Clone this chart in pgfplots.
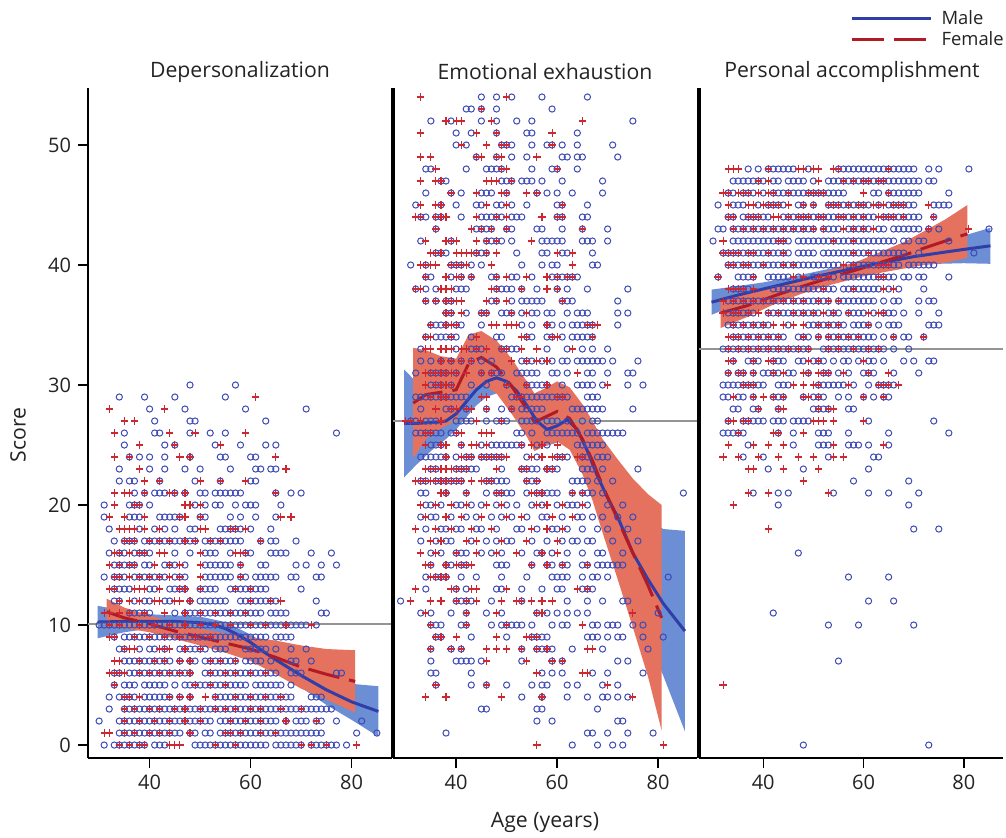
\documentclass[border=0pt]{standalone}
\usepackage{fontspec}
\setmainfont{Open Sans}
\usepackage{pgfplots}
\pgfplotsset{compat=1.18}

\definecolor{maleM}{RGB}{62,74,182}
\definecolor{femaleM}{RGB}{204,40,50}
\definecolor{maleL}{RGB}{48,62,170}
\definecolor{femaleL}{RGB}{178,26,38}
\definecolor{maleB}{RGB}{108,142,212}
\definecolor{femaleB}{RGB}{228,114,94}
\definecolor{refG}{RGB}{148,148,148}
\definecolor{txt}{RGB}{35,35,35}

\pgfplotsset{
  panel/.style={
    scale only axis, width=152pt, height=335pt,
    ymin=-1.08, ymax=54.75,
    axis x line*=bottom, axis y line*=left,
    axis line style={line width=0.7pt, black},
    xtick={40,60,80}, tick align=outside, major tick length=5pt,
    tick style={line width=0.7pt, black},
    every tick label/.append style={font=\fontsize{10}{12}\selectfont, text=txt},
    /pgf/number format/assume math mode=true,
  },
  sepline/.style={ytick=\empty, y axis line style={line width=2pt}},
  mpts/.style={only marks, mark=o, mark size=1.55pt, color=maleM, mark options={line width=0.5pt}},
  fpts/.style={only marks, mark=+, mark size=1.8pt, color=femaleM, mark options={line width=0.55pt}},
  mband/.style={fill=maleB, draw=none, no marks},
  fband/.style={fill=femaleB, draw=none, no marks},
  mline/.style={maleL, line width=1.5pt, no marks},
  fline/.style={femaleL, line width=1.5pt, no marks, dash pattern=on 16pt off 5pt},
  refl/.style={refG, line width=1pt, no marks},
}

\begin{document}
\begin{tikzpicture}[x=1pt,y=1pt]
\useasboundingbox (0,0) rectangle (503,418.5);

% ---------------- Depersonalization
\begin{axis}[panel, at={(44pt,39.5pt)}, anchor=south west,
  xmin=27.8, xmax=88, ytick={0,10,20,30,40,50}]
\addplot[mband] coordinates {(29.7,11.6)(35,11.2)(40,10.9)(45,10.8)(50,10.7)(55,10.25)(60,9.2)(65,7.9)(70,6.8)(75,5.85)(80,5.1)(85.3,4.9)
  (85.3,0.7)(80,2.1)(75,3.35)(70,4.8)(65,6.3)(60,7.9)(55,9.15)(50,9.7)(45,9.8)(40,9.7)(35,9.4)(29.7,8.9)};
\addplot[fband] coordinates {(31.5,12.2)(35,11.45)(40,10.8)(45,10.15)(50,9.7)(55,9.3)(60,9.0)(65,8.7)(70,8.3)(75,8.0)(80.7,7.9)
  (80.7,2.7)(75,3.8)(70,4.7)(65,5.9)(60,7.0)(55,7.7)(50,8.3)(45,8.85)(40,9.4)(35,9.75)(31.5,10.0)};
\addplot[refl] coordinates {(27.8,10.1)(88,10.1)};
\addplot[mpts] table[row sep=\\] {x y\\
31 0\\33 0\\34 0\\35 0\\36 0\\37 0\\38 0\\39 0\\41 0\\42 0\\43 0\\49 0\\50 0\\51 0\\52 0\\53 0\\54 0\\55 0\\56 0\\57 0\\58 0\\59 0\\60 0\\61 0\\62 0\\63 0\\65 0\\66 0\\67 0\\68 0\\69 0\\70 0\\72 0\\73 0\\74 0\\75 0\\76 0\\77 0\\79 0\\
34 1\\35 1\\36 1\\37 1\\38 1\\39 1\\40 1\\41 1\\42 1\\43 1\\44 1\\45 1\\46 1\\48 1\\49 1\\51 1\\52 1\\54 1\\55 1\\56 1\\57 1\\58 1\\59 1\\60 1\\61 1\\62 1\\63 1\\64 1\\65 1\\66 1\\67 1\\68 1\\69 1\\70 1\\71 1\\72 1\\73 1\\74 1\\81 1\\85 1\\
30 2\\34 2\\35 2\\36 2\\37 2\\38 2\\39 2\\40 2\\41 2\\42 2\\43 2\\44 2\\45 2\\46 2\\47 2\\48 2\\49 2\\50 2\\51 2\\52 2\\54 2\\55 2\\56 2\\57 2\\58 2\\59 2\\60 2\\61 2\\62 2\\63 2\\64 2\\65 2\\67 2\\69 2\\70 2\\71 2\\73 2\\74 2\\77 2\\82 2\\
32 3\\35 3\\36 3\\37 3\\38 3\\39 3\\40 3\\41 3\\42 3\\43 3\\44 3\\45 3\\46 3\\47 3\\48 3\\49 3\\50 3\\51 3\\52 3\\53 3\\54 3\\55 3\\56 3\\57 3\\58 3\\59 3\\60 3\\61 3\\62 3\\63 3\\64 3\\65 3\\66 3\\67 3\\68 3\\69 3\\70 3\\71 3\\72 3\\73 3\\74 3\\75 3\\76 3\\
32 4\\34 4\\35 4\\36 4\\37 4\\39 4\\40 4\\41 4\\42 4\\43 4\\44 4\\46 4\\48 4\\53 4\\54 4\\55 4\\56 4\\57 4\\58 4\\59 4\\60 4\\61 4\\62 4\\63 4\\64 4\\65 4\\66 4\\67 4\\68 4\\72 4\\73 4\\74 4\\
33 5\\35 5\\36 5\\37 5\\39 5\\40 5\\41 5\\42 5\\43 5\\45 5\\47 5\\48 5\\49 5\\50 5\\51 5\\52 5\\53 5\\54 5\\55 5\\56 5\\57 5\\58 5\\59 5\\61 5\\62 5\\63 5\\64 5\\65 5\\66 5\\68 5\\
33 6\\34 6\\36 6\\37 6\\38 6\\39 6\\40 6\\41 6\\42 6\\43 6\\44 6\\45 6\\46 6\\47 6\\48 6\\51 6\\52 6\\53 6\\54 6\\55 6\\56 6\\57 6\\58 6\\59 6\\60 6\\61 6\\62 6\\63 6\\64 6\\65 6\\68 6\\69 6\\70 6\\77 6\\78 6\\
35 7\\36 7\\37 7\\38 7\\39 7\\40 7\\41 7\\42 7\\43 7\\44 7\\46 7\\48 7\\49 7\\51 7\\52 7\\53 7\\54 7\\55 7\\56 7\\57 7\\59 7\\60 7\\61 7\\62 7\\64 7\\68 7\\69 7\\72 7\\
34 8\\35 8\\38 8\\40 8\\41 8\\43 8\\46 8\\47 8\\48 8\\49 8\\50 8\\51 8\\53 8\\54 8\\55 8\\59 8\\60 8\\61 8\\62 8\\63 8\\65 8\\68 8\\71 8\\
33 9\\35 9\\36 9\\37 9\\38 9\\39 9\\40 9\\41 9\\42 9\\43 9\\44 9\\45 9\\46 9\\47 9\\48 9\\49 9\\50 9\\51 9\\52 9\\53 9\\54 9\\55 9\\56 9\\57 9\\58 9\\59 9\\60 9\\61 9\\62 9\\63 9\\65 9\\66 9\\67 9\\68 9\\
30 10\\31 10\\32 10\\33 10\\34 10\\35 10\\36 10\\37 10\\38 10\\39 10\\40 10\\41 10\\42 10\\43 10\\44 10\\45 10\\46 10\\47 10\\48 10\\49 10\\50 10\\51 10\\52 10\\53 10\\54 10\\55 10\\56 10\\57 10\\58 10\\59 10\\60 10\\61 10\\62 10\\63 10\\64 10\\65 10\\66 10\\67 10\\68 10\\69 10\\70 10\\71 10\\73 10\\
36 11\\37 11\\38 11\\39 11\\40 11\\45 11\\47 11\\48 11\\49 11\\50 11\\51 11\\52 11\\53 11\\54 11\\55 11\\56 11\\57 11\\58 11\\59 11\\60 11\\61 11\\62 11\\64 11\\65 11\\66 11\\67 11\\74 11\\75 11\\
33 12\\34 12\\37 12\\39 12\\40 12\\43 12\\44 12\\48 12\\50 12\\51 12\\52 12\\53 12\\54 12\\55 12\\58 12\\59 12\\60 12\\61 12\\62 12\\63 12\\64 12\\65 12\\73 12\\
33 13\\34 13\\35 13\\36 13\\40 13\\41 13\\44 13\\45 13\\46 13\\47 13\\50 13\\51 13\\52 13\\53 13\\56 13\\57 13\\58 13\\59 13\\60 13\\61 13\\62 13\\63 13\\70 13\\
31 14\\33 14\\34 14\\35 14\\37 14\\38 14\\39 14\\40 14\\41 14\\42 14\\43 14\\45 14\\46 14\\47 14\\51 14\\52 14\\53 14\\54 14\\55 14\\56 14\\58 14\\59 14\\61 14\\62 14\\63 14\\64 14\\65 14\\68 14\\69 14\\73 14\\74 14\\
33 15\\34 15\\35 15\\36 15\\37 15\\39 15\\40 15\\43 15\\44 15\\45 15\\47 15\\51 15\\52 15\\53 15\\54 15\\55 15\\56 15\\58 15\\62 15\\63 15\\69 15\\71 15\\74 15\\77 15\\
32 16\\34 16\\35 16\\37 16\\38 16\\39 16\\40 16\\45 16\\48 16\\51 16\\52 16\\53 16\\56 16\\59 16\\60 16\\64 16\\65 16\\66 16\\67 16\\72 16\\76 16\\
33 17\\35 17\\36 17\\37 17\\39 17\\40 17\\41 17\\42 17\\43 17\\44 17\\45 17\\46 17\\47 17\\48 17\\49 17\\51 17\\52 17\\53 17\\54 17\\55 17\\56 17\\57 17\\58 17\\62 17\\64 17\\65 17\\69 17\\
32 18\\38 18\\41 18\\43 18\\45 18\\48 18\\49 18\\54 18\\55 18\\56 18\\57 18\\58 18\\60 18\\64 18\\
31 19\\36 19\\37 19\\38 19\\42 19\\43 19\\44 19\\45 19\\46 19\\50 19\\51 19\\56 19\\58 19\\61 19\\65 19\\
31 20\\36 20\\37 20\\38 20\\40 20\\49 20\\51 20\\53 20\\54 20\\57 20\\59 20\\60 20\\61 20\\66 20\\
37 21\\39 21\\41 21\\42 21\\43 21\\45 21\\47 21\\50 21\\51 21\\53 21\\54 21\\55 21\\56 21\\57 21\\58 21\\65 21\\68 21\\70 21\\
34 22\\36 22\\37 22\\42 22\\49 22\\54 22\\60 22\\61 22\\
34 23\\40 23\\43 23\\47 23\\50 23\\56 23\\61 23\\62 23\\64 23\\65 23\\
36 24\\38 24\\40 24\\43 24\\48 24\\54 24\\55 24\\60 24\\61 24\\
35 25\\43 25\\45 25\\53 25\\58 25\\63 25\\65 25\\
35 26\\41 26\\42 26\\48 26\\52 26\\55 26\\77 26\\
41 27\\48 27\\49 27\\63 27\\
40 28\\47 28\\59 28\\71 28\\
34 29\\39 29\\45 29\\55 29\\
48 30\\57 30\\
};
\addplot[fpts] table[row sep=\\] {x y\\
34 0\\36 0\\38 0\\39 0\\44 0\\45 0\\46 0\\53 0\\57 0\\70 0\\72 0\\75 0\\81 0\\
31 1\\32 1\\35 1\\37 1\\40 1\\42 1\\44 1\\48 1\\55 1\\56 1\\58 1\\62 1\\65 1\\
35 2\\38 2\\41 2\\44 2\\47 2\\50 2\\56 2\\59 2\\62 2\\67 2\\73 2\\
35 3\\37 3\\40 3\\42 3\\45 3\\47 3\\50 3\\53 3\\55 3\\57 3\\60 3\\62 3\\66 3\\70 3\\
35 4\\36 4\\38 4\\44 4\\46 4\\48 4\\51 4\\53 4\\57 4\\60 4\\63 4\\66 4\\
33 5\\49 5\\52 5\\55 5\\
32 6\\33 6\\34 6\\35 6\\38 6\\40 6\\42 6\\44 6\\46 6\\48 6\\52 6\\55 6\\57 6\\60 6\\63 6\\
33 7\\34 7\\38 7\\41 7\\43 7\\46 7\\48 7\\52 7\\54 7\\57 7\\
35 8\\36 8\\37 8\\42 8\\43 8\\44 8\\47 8\\50 8\\
32 9\\33 9\\37 9\\40 9\\43 9\\46 9\\49 9\\52 9\\
32 10\\34 10\\38 10\\41 10\\44 10\\47 10\\50 10\\53 10\\56 10\\60 10\\63 10\\67 10\\72 10\\
31 11\\32 11\\34 11\\36 11\\39 11\\43 11\\47 11\\50 11\\53 11\\56 11\\59 11\\
34 12\\36 12\\38 12\\41 12\\42 12\\45 12\\46 12\\48 12\\60 12\\64 12\\66 12\\
32 13\\33 13\\37 13\\38 13\\39 13\\42 13\\46 13\\47 13\\50 13\\57 13\\60 13\\
33 14\\34 14\\36 14\\38 14\\40 14\\42 14\\44 14\\46 14\\50 14\\58 14\\
32 15\\34 15\\36 15\\37 15\\41 15\\44 15\\46 15\\50 15\\58 15\\
33 16\\34 16\\36 16\\38 16\\39 16\\42 16\\43 16\\50 16\\57 16\\58 16\\59 16\\
35 17\\36 17\\37 17\\40 17\\42 17\\44 17\\47 17\\49 17\\52 17\\54 17\\62 17\\
34 18\\35 18\\36 18\\37 18\\39 18\\42 18\\50 18\\51 18\\56 18\\57 18\\59 18\\
32 19\\35 19\\39 19\\46 19\\47 19\\50 19\\66 19\\68 19\\
33 20\\37 20\\38 20\\47 20\\48 20\\50 20\\
33 21\\35 21\\36 21\\39 21\\44 21\\45 21\\47 21\\65 21\\
39 22\\42 22\\50 22\\54 22\\59 22\\
38 23\\67 23\\
33 24\\36 24\\46 24\\48 24\\65 24\\
38 25\\45 25\\54 25\\
33 26\\44 26\\49 26\\59 26\\
35 27\\37 27\\
32 28\\43 28\\
61 29\\
};
\addplot[mline] coordinates {(29.7,10.25)(35,10.3)(40,10.3)(45,10.3)(50,10.2)(53,10.0)(55,9.7)(57,9.3)(60,8.55)(62.5,7.8)(65,7.1)(70,5.8)(75,4.6)(80,3.6)(85.3,2.8)};
\addplot[fline] coordinates {(31.5,11.1)(35,10.6)(40,10.1)(45,9.5)(50,9.0)(55,8.5)(60,8.0)(65,7.3)(70,6.5)(75,5.9)(80.7,5.3)};
\end{axis}

% ---------------- Emotional exhaustion
\begin{axis}[panel, sepline, at={(196.5pt,39.5pt)}, anchor=south west,
  xmin=27.5, xmax=87.7]
\addplot[mband] coordinates {(29.7,31.3)(32,30.3)(35,29.3)(38,28.5)(40,28.9)(42,29.9)(44,30.9)(46,31.6)(48,31.9)(50,31.6)(52,30.8)(54,29.6)(56,28.3)(58,27.65)(60,28.0)(62,28.6)(64,27.9)(66,26.4)(68,24.6)(70,23.2)(72,22.0)(75,20.2)(78,18.9)(81,18.0)(85.3,17.85)
  (85.3,1.15)(81,5.8)(78,8.9)(75,12.1)(72,16.0)(70,18.0)(68,20.2)(66,22.6)(64,24.7)(62,25.6)(60,25.2)(58,24.95)(56,25.7)(54,27.0)(52,28.2)(50,29.0)(48,29.3)(46,29.0)(44,28.3)(42,27.3)(40,26.3)(38,25.5)(35,24.5)(32,23.3)(29.7,22.3)};
\addplot[fband] coordinates {(31.5,33.1)(34,32.9)(37,32.4)(40,32.2)(42.5,34.2)(45,34.5)(48,33.7)(51,32.2)(54,30.3)(55.5,29.3)(57,29.6)(60,30.3)(62.5,29.8)(65,28.4)(67,27.0)(69,25.5)(72,23.8)(75,22.2)(78,20.9)(80.7,20.0)
  (80.7,1.2)(78,5.7)(75,9.8)(72,13.8)(69,17.7)(67,20.4)(65,22.6)(62.5,24.6)(60,25.3)(57,24.8)(55.5,24.5)(54,25.7)(51,27.6)(48,29.3)(45,30.1)(42.5,29.4)(40,27.0)(37,26.4)(34,25.5)(31.5,23.9)};
\addplot[refl] coordinates {(27.5,27)(87.7,27)};
\addplot[mpts] table[row sep=\\] {x y\\
45 54\\48 54\\51 54\\57 54\\66 54\\
42 53\\43 53\\45 53\\48 53\\59 53\\
35 52\\39 52\\45 52\\48 52\\52 52\\55 52\\75 52\\
40 51\\43 51\\48 51\\54 51\\55 51\\64 51\\
40 50\\42 50\\49 50\\50 50\\51 50\\55 50\\58 50\\59 50\\61 50\\64 50\\71 50\\
44 49\\48 49\\51 49\\54 49\\61 49\\62 49\\64 49\\65 49\\72 49\\
34 48\\35 48\\42 48\\46 48\\47 48\\48 48\\49 48\\55 48\\59 48\\60 48\\64 48\\
37 47\\38 47\\49 47\\50 47\\51 47\\53 47\\54 47\\55 47\\57 47\\61 47\\69 47\\
34 46\\39 46\\41 46\\45 46\\46 46\\47 46\\50 46\\56 46\\58 46\\60 46\\63 46\\69 46\\
32 45\\37 45\\40 45\\44 45\\45 45\\48 45\\49 45\\51 45\\54 45\\60 45\\61 45\\66 45\\
33 44\\34 44\\36 44\\37 44\\41 44\\45 44\\46 44\\47 44\\48 44\\49 44\\51 44\\52 44\\53 44\\60 44\\61 44\\65 44\\66 44\\
36 43\\44 43\\45 43\\46 43\\47 43\\50 43\\51 43\\56 43\\57 43\\61 43\\65 43\\70 43\\
33 42\\39 42\\46 42\\47 42\\48 42\\49 42\\51 42\\57 42\\58 42\\59 42\\60 42\\61 42\\65 42\\66 42\\67 42\\70 42\\
36 41\\37 41\\38 41\\44 41\\45 41\\46 41\\52 41\\57 41\\58 41\\61 41\\62 41\\67 41\\
31 40\\34 40\\39 40\\40 40\\41 40\\43 40\\45 40\\53 40\\57 40\\59 40\\60 40\\67 40\\68 40\\
34 39\\35 39\\39 39\\41 39\\43 39\\47 39\\48 39\\51 39\\52 39\\55 39\\59 39\\60 39\\61 39\\62 39\\63 39\\64 39\\
32 38\\34 38\\36 38\\40 38\\41 38\\42 38\\48 38\\49 38\\50 38\\51 38\\53 38\\56 38\\60 38\\62 38\\66 38\\74 38\\
34 37\\36 37\\38 37\\39 37\\47 37\\48 37\\51 37\\53 37\\54 37\\55 37\\56 37\\57 37\\61 37\\62 37\\63 37\\72 37\\
38 36\\39 36\\42 36\\45 36\\46 36\\49 36\\50 36\\51 36\\53 36\\55 36\\56 36\\58 36\\59 36\\62 36\\64 36\\65 36\\66 36\\72 36\\74 36\\
35 35\\36 35\\37 35\\38 35\\40 35\\41 35\\45 35\\53 35\\55 35\\58 35\\59 35\\61 35\\63 35\\64 35\\65 35\\66 35\\67 35\\72 35\\
34 34\\36 34\\37 34\\38 34\\39 34\\40 34\\43 34\\48 34\\49 34\\54 34\\55 34\\58 34\\59 34\\61 34\\63 34\\64 34\\65 34\\66 34\\67 34\\
33 33\\40 33\\43 33\\44 33\\45 33\\49 33\\50 33\\51 33\\52 33\\58 33\\62 33\\65 33\\67 33\\70 33\\
33 32\\35 32\\37 32\\39 32\\41 32\\43 32\\45 32\\47 32\\53 32\\54 32\\55 32\\57 32\\59 32\\61 32\\62 32\\64 32\\65 32\\66 32\\67 32\\68 32\\69 32\\71 32\\76 32\\
32 31\\35 31\\36 31\\37 31\\38 31\\40 31\\45 31\\47 31\\48 31\\49 31\\52 31\\53 31\\54 31\\55 31\\56 31\\59 31\\60 31\\62 31\\66 31\\67 31\\70 31\\74 31\\75 31\\
35 30\\36 30\\37 30\\39 30\\43 30\\46 30\\50 30\\54 30\\55 30\\56 30\\57 30\\58 30\\61 30\\64 30\\65 30\\66 30\\67 30\\69 30\\74 30\\77 30\\
32 29\\33 29\\34 29\\35 29\\36 29\\37 29\\38 29\\39 29\\40 29\\41 29\\42 29\\51 29\\52 29\\53 29\\54 29\\55 29\\56 29\\57 29\\58 29\\59 29\\60 29\\61 29\\62 29\\66 29\\67 29\\68 29\\
33 28\\38 28\\39 28\\42 28\\46 28\\49 28\\51 28\\53 28\\54 28\\55 28\\56 28\\57 28\\63 28\\64 28\\65 28\\66 28\\67 28\\68 28\\69 28\\75 28\\
31 27\\32 27\\34 27\\35 27\\36 27\\40 27\\41 27\\42 27\\43 27\\46 27\\48 27\\49 27\\50 27\\53 27\\54 27\\55 27\\56 27\\58 27\\59 27\\60 27\\62 27\\65 27\\67 27\\68 27\\
32 26\\33 26\\34 26\\35 26\\36 26\\37 26\\39 26\\40 26\\52 26\\53 26\\55 26\\58 26\\59 26\\60 26\\61 26\\62 26\\63 26\\64 26\\66 26\\67 26\\68 26\\69 26\\70 26\\71 26\\72 26\\73 26\\
35 25\\36 25\\37 25\\41 25\\45 25\\47 25\\48 25\\49 25\\50 25\\51 25\\52 25\\53 25\\56 25\\58 25\\64 25\\65 25\\66 25\\67 25\\68 25\\69 25\\
33 24\\34 24\\35 24\\36 24\\37 24\\38 24\\40 24\\42 24\\43 24\\45 24\\46 24\\47 24\\48 24\\49 24\\54 24\\56 24\\60 24\\61 24\\62 24\\65 24\\66 24\\68 24\\69 24\\70 24\\
35 23\\36 23\\40 23\\41 23\\42 23\\43 23\\44 23\\49 23\\53 23\\54 23\\55 23\\56 23\\58 23\\59 23\\60 23\\65 23\\66 23\\67 23\\69 23\\76 23\\
33 22\\34 22\\36 22\\37 22\\38 22\\39 22\\40 22\\41 22\\46 22\\47 22\\48 22\\49 22\\50 22\\54 22\\55 22\\56 22\\63 22\\64 22\\65 22\\66 22\\68 22\\71 22\\
33 21\\34 21\\38 21\\42 21\\46 21\\48 21\\49 21\\50 21\\51 21\\54 21\\56 21\\57 21\\58 21\\59 21\\60 21\\63 21\\65 21\\66 21\\67 21\\69 21\\85 21\\
34 20\\35 20\\37 20\\40 20\\41 20\\43 20\\45 20\\48 20\\50 20\\52 20\\55 20\\57 20\\60 20\\62 20\\63 20\\64 20\\66 20\\70 20\\73 20\\
33 19\\35 19\\36 19\\39 19\\42 19\\44 19\\47 19\\49 19\\51 19\\54 19\\57 19\\58 19\\61 19\\64 19\\65 19\\67 19\\69 19\\72 19\\75 19\\
34 18\\37 18\\38 18\\40 18\\41 18\\44 18\\45 18\\48 18\\52 18\\53 18\\56 18\\59 18\\60 18\\62 18\\65 18\\68 18\\70 18\\74 18\\
33 17\\36 17\\38 17\\39 17\\43 17\\46 17\\48 17\\50 17\\51 17\\55 17\\58 17\\61 17\\63 17\\64 17\\66 17\\67 17\\71 17\\76 17\\
35 16\\37 16\\40 16\\41 16\\42 16\\45 16\\47 16\\49 16\\53 16\\56 16\\57 16\\59 16\\62 16\\65 16\\68 16\\69 16\\73 16\\
35 15\\38 15\\39 15\\41 15\\42 15\\48 15\\49 15\\50 15\\55 15\\58 15\\59 15\\61 15\\62 15\\65 15\\66 15\\68 15\\69 15\\70 15\\71 15\\72 15\\73 15\\
34 14\\36 14\\37 14\\38 14\\41 14\\44 14\\49 14\\54 14\\59 14\\60 14\\61 14\\62 14\\65 14\\67 14\\68 14\\70 14\\82 14\\
34 13\\40 13\\42 13\\48 13\\49 13\\53 13\\57 13\\60 13\\61 13\\65 13\\66 13\\67 13\\
29 12\\40 12\\41 12\\42 12\\43 12\\47 12\\53 12\\62 12\\66 12\\69 12\\73 12\\74 12\\
33 11\\35 11\\39 11\\42 11\\46 11\\49 11\\56 11\\58 11\\60 11\\62 11\\64 11\\66 11\\80 11\\
35 10\\36 10\\37 10\\41 10\\42 10\\47 10\\49 10\\50 10\\51 10\\52 10\\53 10\\55 10\\59 10\\61 10\\62 10\\67 10\\68 10\\70 10\\71 10\\72 10\\75 10\\77 10\\
36 9\\37 9\\43 9\\50 9\\55 9\\56 9\\57 9\\58 9\\66 9\\67 9\\68 9\\70 9\\72 9\\73 9\\77 9\\81 9\\
35 8\\39 8\\41 8\\53 8\\56 8\\57 8\\58 8\\59 8\\63 8\\69 8\\78 8\\
35 7\\40 7\\41 7\\42 7\\43 7\\45 7\\53 7\\59 7\\61 7\\72 7\\74 7\\
35 6\\36 6\\43 6\\57 6\\59 6\\61 6\\67 6\\70 6\\77 6\\
36 5\\43 5\\46 5\\50 5\\55 5\\57 5\\58 5\\62 5\\64 5\\69 5\\72 5\\
53 4\\57 4\\62 4\\66 4\\69 4\\70 4\\72 4\\74 4\\
45 3\\46 3\\56 3\\57 3\\68 3\\
56 2\\59 2\\72 2\\73 2\\
38 1\\66 1\\67 1\\70 1\\74 1\\79 1\\
63 0\\68 0\\71 0\\73 0\\
};
\addplot[fpts] table[row sep=\\] {x y\\
33 54\\50 54\\
45 53\\
38 52\\40 52\\41 52\\47 52\\65 52\\
33 51\\44 51\\48 51\\59 51\\
41 50\\46 50\\49 50\\50 50\\59 50\\
33 49\\35 49\\44 49\\45 49\\48 49\\49 49\\56 49\\
36 48\\49 48\\50 48\\60 48\\
33 47\\36 47\\37 47\\46 47\\47 47\\48 47\\51 47\\
39 46\\44 46\\49 46\\50 46\\54 46\\56 46\\
33 45\\36 45\\37 45\\46 45\\50 45\\61 45\\
32 44\\33 44\\36 44\\37 44\\38 44\\44 44\\48 44\\50 44\\57 44\\60 44\\61 44\\
36 43\\43 43\\45 43\\47 43\\50 43\\65 43\\
34 42\\38 42\\39 42\\40 42\\44 42\\46 42\\48 42\\55 42\\
35 41\\36 41\\37 41\\40 41\\41 41\\42 41\\43 41\\44 41\\46 41\\48 41\\60 41\\63 41\\
33 40\\34 40\\35 40\\36 40\\39 40\\40 40\\41 40\\42 40\\47 40\\63 40\\
34 39\\38 39\\40 39\\41 39\\43 39\\48 39\\50 39\\54 39\\58 39\\60 39\\62 39\\63 39\\
32 38\\33 38\\37 38\\38 38\\39 38\\47 38\\48 38\\53 38\\58 38\\60 38\\
34 37\\36 37\\38 37\\39 37\\40 37\\41 37\\46 37\\48 37\\50 37\\61 37\\
38 36\\39 36\\41 36\\45 36\\46 36\\51 36\\54 36\\
35 35\\38 35\\39 35\\40 35\\47 35\\48 35\\50 35\\51 35\\52 35\\58 35\\66 35\\67 35\\68 35\\
34 34\\35 34\\39 34\\44 34\\53 34\\54 34\\59 34\\60 34\\67 34\\
34 33\\35 33\\37 33\\38 33\\39 33\\41 33\\42 33\\44 33\\46 33\\49 33\\50 33\\53 33\\56 33\\63 33\\
37 32\\39 32\\41 32\\43 32\\51 32\\54 32\\56 32\\58 32\\
34 31\\35 31\\36 31\\37 31\\38 31\\39 31\\40 31\\42 31\\45 31\\47 31\\64 31\\
34 30\\36 30\\37 30\\38 30\\39 30\\50 30\\54 30\\58 30\\70 30\\
35 29\\37 29\\38 29\\45 29\\46 29\\52 29\\53 29\\60 29\\61 29\\
36 28\\39 28\\40 28\\42 28\\43 28\\46 28\\51 28\\
30 27\\31 27\\33 27\\37 27\\44 27\\49 27\\
34 26\\35 26\\40 26\\41 26\\45 26\\46 26\\47 26\\
34 25\\37 25\\38 25\\41 25\\43 25\\44 25\\46 25\\53 25\\55 25\\57 25\\60 25\\
38 24\\41 24\\42 24\\43 24\\45 24\\46 24\\47 24\\48 24\\49 24\\50 24\\55 24\\57 24\\59 24\\60 24\\61 24\\64 24\\65 24\\
34 23\\35 23\\36 23\\37 23\\38 23\\39 23\\40 23\\41 23\\42 23\\48 23\\53 23\\54 23\\58 23\\59 23\\
32 22\\33 22\\34 22\\35 22\\36 22\\37 22\\38 22\\39 22\\40 22\\41 22\\43 22\\45 22\\46 22\\47 22\\54 22\\56 22\\
37 21\\38 21\\42 21\\48 21\\49 21\\55 21\\56 21\\57 21\\63 21\\65 21\\
33 20\\36 20\\39 20\\42 20\\46 20\\49 20\\56 20\\58 20\\61 20\\65 20\\
34 19\\38 19\\41 19\\45 19\\50 19\\53 19\\59 19\\63 19\\
32 18\\36 18\\39 18\\43 18\\47 18\\55 18\\58 18\\61 18\\
35 17\\37 17\\42 17\\44 17\\49 17\\54 17\\60 17\\
33 16\\36 16\\40 16\\44 16\\48 16\\52 16\\57 16\\60 16\\
34 15\\35 15\\38 15\\40 15\\41 15\\42 15\\43 15\\55 15\\58 15\\61 15\\66 15\\
35 14\\36 14\\37 14\\38 14\\
32 13\\39 13\\40 13\\43 13\\44 13\\50 13\\64 13\\66 13\\
31 12\\35 12\\37 12\\40 12\\42 12\\44 12\\49 12\\52 12\\53 12\\55 12\\57 12\\59 12\\
34 11\\42 11\\48 11\\56 11\\57 11\\75 11\\
35 10\\42 10\\50 10\\65 10\\
36 9\\37 9\\40 9\\48 9\\54 9\\55 9\\56 9\\
35 8\\39 8\\41 8\\46 8\\48 8\\50 8\\53 8\\56 8\\58 8\\66 8\\67 8\\
46 7\\54 7\\59 7\\61 7\\
56 6\\65 6\\66 6\\
36 5\\46 5\\70 5\\
34 4\\38 4\\49 4\\57 4\\75 4\\
56 0\\81 0\\
};
\addplot[mline] coordinates {(29.7,26.8)(32,26.8)(36,26.9)(38,27.0)(40,27.6)(42,28.6)(44,29.6)(46,30.3)(48,30.6)(50,30.3)(52,29.5)(54,28.3)(56,27.0)(58,26.3)(60,26.6)(62,27.1)(64,26.3)(66,24.5)(68,22.4)(70,20.6)(72,19.0)(75,16.0)(78,13.8)(81,11.8)(85.3,9.5)};
\addplot[fline] coordinates {(31.5,28.5)(34,29.2)(37,29.4)(40,29.6)(42.5,31.8)(45,32.3)(48,31.5)(51,29.9)(54,28.0)(55.5,26.9)(57,27.2)(60,27.8)(62.5,27.2)(65,25.5)(67,23.7)(69,21.6)(72,18.8)(75,16.0)(78,13.3)(80.7,10.6)};
\end{axis}

% ---------------- Personal accomplishment
\begin{axis}[panel, sepline, at={(349.5pt,39.5pt)}, anchor=south west,
  xmin=27.2, xmax=87.8,
  legend style={at={(1.03,1.1254)}, anchor=north east, draw=none, fill=none,
    font=\fontsize{9.2}{10}\selectfont, text=txt, row sep=0pt,
    nodes={inner sep=1pt}},
  legend cell align=left,
  legend image code/.code={\draw[#1] (0pt,0pt) -- (39.5pt,0pt); \path (43pt,0pt);}]
\addlegendimage{mline}\addlegendentry{Male}
\addlegendimage{fline}\addlegendentry{Female}
\addplot[mband] coordinates {(29.7,37.95)(35,38.25)(40,38.55)(45,38.95)(50,39.4)(55,39.85)(60,40.35)(65,40.85)(70,41.4)(75,41.9)(80,42.45)(85.3,43.1)
  (85.3,40.1)(80,40.15)(75,40.1)(70,40.0)(65,39.75)(60,39.45)(55,39.05)(50,38.6)(45,38.05)(40,37.45)(35,36.75)(29.7,35.85)};
\addplot[fband] coordinates {(31.5,37.25)(36.7,37.55)(42,38.1)(47.6,38.8)(53,39.5)(59.4,40.4)(64,41.2)(68,41.9)(72,42.8)(76.3,43.8)(80.7,45.0)
  (80.7,40.6)(76.3,40.2)(72,40.0)(68,39.7)(64,39.4)(59.4,39.0)(53,38.3)(47.6,37.6)(42,36.7)(36.7,35.65)(31.5,34.75)};
\addplot[refl] coordinates {(27.2,33)(87.8,33)};
\addplot[mpts] table[row sep=\\] {x y\\
37 48\\39 48\\41 48\\42 48\\43 48\\44 48\\45 48\\46 48\\49 48\\55 48\\56 48\\57 48\\58 48\\59 48\\60 48\\61 48\\62 48\\63 48\\64 48\\65 48\\66 48\\67 48\\68 48\\69 48\\70 48\\73 48\\75 48\\81 48\\
34 47\\35 47\\36 47\\37 47\\38 47\\39 47\\40 47\\42 47\\43 47\\45 47\\46 47\\47 47\\48 47\\50 47\\53 47\\54 47\\55 47\\56 47\\57 47\\58 47\\59 47\\60 47\\61 47\\62 47\\63 47\\64 47\\65 47\\66 47\\67 47\\68 47\\69 47\\70 47\\71 47\\73 47\\74 47\\
33 46\\34 46\\36 46\\37 46\\38 46\\40 46\\42 46\\43 46\\44 46\\45 46\\46 46\\47 46\\48 46\\49 46\\50 46\\51 46\\52 46\\53 46\\54 46\\55 46\\56 46\\62 46\\63 46\\65 46\\66 46\\67 46\\68 46\\69 46\\70 46\\71 46\\77 46\\
31 45\\34 45\\35 45\\36 45\\39 45\\41 45\\42 45\\43 45\\44 45\\47 45\\48 45\\50 45\\53 45\\54 45\\55 45\\56 45\\57 45\\58 45\\59 45\\60 45\\61 45\\63 45\\65 45\\66 45\\67 45\\68 45\\69 45\\70 45\\74 45\\75 45\\76 45\\77 45\\
33 44\\34 44\\36 44\\37 44\\38 44\\39 44\\40 44\\41 44\\44 44\\45 44\\46 44\\47 44\\48 44\\49 44\\50 44\\51 44\\52 44\\53 44\\54 44\\55 44\\56 44\\57 44\\58 44\\59 44\\60 44\\61 44\\62 44\\64 44\\65 44\\66 44\\67 44\\68 44\\69 44\\70 44\\71 44\\74 44\\
31 43\\32 43\\34 43\\35 43\\36 43\\37 43\\38 43\\39 43\\40 43\\41 43\\42 43\\43 43\\44 43\\45 43\\46 43\\47 43\\48 43\\49 43\\50 43\\52 43\\53 43\\54 43\\55 43\\57 43\\58 43\\59 43\\60 43\\61 43\\63 43\\64 43\\66 43\\67 43\\68 43\\69 43\\70 43\\71 43\\73 43\\75 43\\85 43\\
30 42\\34 42\\35 42\\36 42\\37 42\\38 42\\39 42\\40 42\\41 42\\42 42\\43 42\\44 42\\45 42\\47 42\\48 42\\49 42\\50 42\\51 42\\52 42\\53 42\\54 42\\55 42\\56 42\\57 42\\58 42\\59 42\\60 42\\61 42\\62 42\\63 42\\64 42\\65 42\\66 42\\68 42\\69 42\\71 42\\72 42\\77 42\\
32 41\\33 41\\34 41\\35 41\\36 41\\37 41\\38 41\\39 41\\40 41\\41 41\\42 41\\43 41\\44 41\\45 41\\47 41\\48 41\\49 41\\50 41\\52 41\\53 41\\54 41\\55 41\\56 41\\57 41\\58 41\\59 41\\60 41\\61 41\\62 41\\63 41\\64 41\\65 41\\66 41\\67 41\\68 41\\71 41\\82 41\\
33 40\\34 40\\35 40\\36 40\\37 40\\38 40\\39 40\\40 40\\41 40\\42 40\\43 40\\44 40\\45 40\\46 40\\47 40\\48 40\\49 40\\50 40\\51 40\\52 40\\53 40\\54 40\\55 40\\57 40\\58 40\\59 40\\60 40\\61 40\\62 40\\63 40\\64 40\\65 40\\66 40\\67 40\\69 40\\70 40\\71 40\\72 40\\73 40\\74 40\\
31 39\\35 39\\36 39\\37 39\\38 39\\41 39\\42 39\\43 39\\44 39\\45 39\\47 39\\50 39\\51 39\\52 39\\53 39\\54 39\\56 39\\57 39\\58 39\\59 39\\60 39\\61 39\\62 39\\63 39\\64 39\\65 39\\66 39\\68 39\\69 39\\71 39\\72 39\\77 39\\
34 38\\35 38\\36 38\\37 38\\42 38\\43 38\\44 38\\45 38\\46 38\\47 38\\48 38\\49 38\\50 38\\51 38\\52 38\\53 38\\54 38\\56 38\\57 38\\58 38\\59 38\\60 38\\61 38\\62 38\\63 38\\65 38\\67 38\\72 38\\
33 37\\34 37\\35 37\\36 37\\37 37\\38 37\\39 37\\40 37\\41 37\\42 37\\43 37\\44 37\\45 37\\46 37\\47 37\\48 37\\49 37\\50 37\\51 37\\52 37\\53 37\\55 37\\56 37\\57 37\\58 37\\59 37\\60 37\\61 37\\62 37\\64 37\\66 37\\67 37\\71 37\\73 37\\74 37\\
33 36\\34 36\\35 36\\36 36\\37 36\\38 36\\41 36\\42 36\\43 36\\44 36\\45 36\\46 36\\47 36\\48 36\\49 36\\50 36\\51 36\\53 36\\54 36\\55 36\\57 36\\58 36\\59 36\\60 36\\62 36\\64 36\\65 36\\66 36\\68 36\\71 36\\75 36\\
33 35\\34 35\\35 35\\36 35\\37 35\\38 35\\39 35\\40 35\\41 35\\45 35\\49 35\\50 35\\51 35\\52 35\\53 35\\54 35\\55 35\\56 35\\58 35\\59 35\\60 35\\61 35\\63 35\\65 35\\66 35\\67 35\\73 35\\74 35\\75 35\\
34 34\\35 34\\36 34\\37 34\\38 34\\39 34\\40 34\\41 34\\42 34\\43 34\\44 34\\47 34\\48 34\\49 34\\51 34\\53 34\\54 34\\55 34\\56 34\\57 34\\58 34\\59 34\\60 34\\61 34\\62 34\\64 34\\66 34\\68 34\\69 34\\72 34\\
32 33\\33 33\\34 33\\35 33\\36 33\\37 33\\38 33\\39 33\\40 33\\41 33\\42 33\\43 33\\44 33\\45 33\\46 33\\47 33\\48 33\\49 33\\52 33\\53 33\\54 33\\55 33\\56 33\\57 33\\58 33\\59 33\\60 33\\61 33\\62 33\\63 33\\64 33\\66 33\\69 33\\
34 32\\37 32\\38 32\\39 32\\42 32\\43 32\\44 32\\47 32\\48 32\\50 32\\51 32\\52 32\\54 32\\56 32\\57 32\\59 32\\61 32\\62 32\\64 32\\68 32\\70 32\\73 32\\74 32\\
33 31\\35 31\\36 31\\38 31\\40 31\\41 31\\42 31\\43 31\\45 31\\46 31\\49 31\\52 31\\53 31\\55 31\\57 31\\60 31\\61 31\\62 31\\66 31\\71 31\\
32 30\\33 30\\34 30\\35 30\\36 30\\37 30\\38 30\\39 30\\40 30\\43 30\\44 30\\45 30\\51 30\\52 30\\53 30\\54 30\\55 30\\56 30\\58 30\\61 30\\63 30\\64 30\\65 30\\66 30\\
32 29\\33 29\\35 29\\36 29\\38 29\\42 29\\43 29\\44 29\\48 29\\50 29\\51 29\\52 29\\55 29\\57 29\\60 29\\62 29\\64 29\\65 29\\
34 28\\35 28\\38 28\\39 28\\43 28\\50 28\\51 28\\52 28\\53 28\\57 28\\58 28\\
33 27\\36 27\\37 27\\38 27\\39 27\\40 27\\42 27\\43 27\\44 27\\46 27\\47 27\\48 27\\49 27\\61 27\\74 27\\
32 26\\33 26\\34 26\\35 26\\36 26\\43 26\\46 26\\51 26\\52 26\\53 26\\57 26\\65 26\\77 26\\
37 25\\46 25\\51 25\\52 25\\53 25\\57 25\\58 25\\59 25\\61 25\\65 25\\
36 24\\40 24\\53 24\\62 24\\63 24\\
41 23\\48 23\\61 23\\
58 22\\69 22\\
38 21\\43 21\\45 21\\54 21\\61 21\\65 21\\71 21\\
43 20\\69 20\\
70 18\\75 18\\
47 16\\
57 14\\65 14\\
61 12\\66 12\\
42 11\\
53 10\\59 10\\70 10\\
55 7\\
48 0\\73 0\\
};
\addplot[fpts] table[row sep=\\] {x y\\
33 48\\34 48\\35 48\\41 48\\47 48\\48 48\\50 48\\51 48\\54 48\\55 48\\65 48\\
39 47\\41 47\\51 47\\56 47\\58 47\\60 47\\61 47\\63 47\\64 47\\
32 46\\33 46\\35 46\\36 46\\37 46\\39 46\\41 46\\42 46\\45 46\\49 46\\50 46\\51 46\\52 46\\60 46\\65 46\\
33 45\\37 45\\38 45\\40 45\\41 45\\42 45\\43 45\\45 45\\48 45\\50 45\\53 45\\54 45\\55 45\\57 45\\59 45\\60 45\\62 45\\63 45\\64 45\\66 45\\67 45\\68 45\\73 45\\
33 44\\34 44\\37 44\\38 44\\39 44\\42 44\\43 44\\45 44\\47 44\\48 44\\49 44\\51 44\\52 44\\55 44\\56 44\\58 44\\60 44\\63 44\\64 44\\65 44\\66 44\\68 44\\74 44\\
34 43\\36 43\\38 43\\40 43\\42 43\\44 43\\46 43\\48 43\\50 43\\52 43\\56 43\\58 43\\60 43\\62 43\\73 43\\81 43\\
32 42\\43 42\\44 42\\54 42\\58 42\\
32 41\\33 41\\34 41\\35 41\\37 41\\38 41\\41 41\\44 41\\58 41\\61 41\\
33 40\\34 40\\36 40\\37 40\\40 40\\44 40\\46 40\\56 40\\58 40\\63 40\\64 40\\65 40\\
31 39\\38 39\\46 39\\48 39\\51 39\\53 39\\63 39\\64 39\\
33 38\\34 38\\35 38\\36 38\\38 38\\52 38\\58 38\\64 38\\66 38\\
32 37\\34 37\\36 37\\38 37\\40 37\\42 37\\44 37\\46 37\\48 37\\51 37\\53 37\\55 37\\
32 36\\34 36\\35 36\\37 36\\39 36\\41 36\\43 36\\46 36\\48 36\\50 36\\52 36\\54 36\\57 36\\61 36\\63 36\\64 36\\
34 35\\36 35\\38 35\\40 35\\42 35\\44 35\\46 35\\48 35\\51 35\\53 35\\55 35\\61 35\\
33 34\\34 34\\35 34\\37 34\\39 34\\41 34\\43 34\\48 34\\51 34\\53 34\\55 34\\57 34\\59 34\\66 34\\72 34\\
33 33\\35 33\\37 33\\39 33\\41 33\\43 33\\45 33\\47 33\\49 33\\53 33\\55 33\\58 33\\61 33\\63 33\\
33 32\\34 32\\38 32\\41 32\\42 32\\49 32\\51 32\\60 32\\
33 31\\35 31\\36 31\\38 31\\42 31\\44 31\\48 31\\49 31\\51 31\\52 31\\53 31\\56 31\\61 31\\65 31\\
36 30\\37 30\\38 30\\46 30\\48 30\\50 30\\51 30\\57 30\\63 30\\64 30\\65 30\\67 30\\
34 29\\38 29\\40 29\\42 29\\44 29\\48 29\\49 29\\51 29\\60 29\\64 29\\
39 28\\43 28\\44 28\\51 28\\53 28\\54 28\\
33 27\\34 27\\36 27\\37 27\\50 27\\51 27\\52 27\\54 27\\60 27\\
35 26\\42 26\\43 26\\48 26\\
33 25\\38 25\\41 25\\44 25\\54 25\\64 25\\
32 24\\35 24\\39 24\\43 24\\47 24\\50 24\\54 24\\56 24\\
37 23\\38 23\\44 23\\51 23\\
48 22\\
37 21\\41 21\\53 21\\
34 20\\
41 18\\
32 5\\
};
\addplot[mline] coordinates {(29.7,36.9)(35,37.5)(40,38.0)(45,38.5)(50,39.0)(55,39.45)(60,39.9)(65,40.3)(70,40.7)(75,41.0)(80,41.3)(85.3,41.6)};
\addplot[fline] coordinates {(31.5,36.0)(36.7,36.6)(42,37.4)(47.6,38.2)(53,38.9)(59.4,39.7)(64,40.3)(68,40.8)(72,41.4)(76.3,42.0)(80.7,42.6)};
\end{axis}

% ---------------- titles and axis labels
\node[font=\fontsize{10.6}{12}\selectfont, text=txt] at (120,382.5) {Depersonalization};
\node[font=\fontsize{10.6}{12}\selectfont, text=txt] at (272.5,382.5) {Emotional exhaustion};
\node[font=\fontsize{10.6}{12}\selectfont, text=txt] at (426,382.5) {Personal accomplishment};
\node[font=\fontsize{10.6}{12}\selectfont, text=txt] at (272.5,7.5) {Age (years)};
\node[font=\fontsize{10.6}{12}\selectfont, text=txt, rotate=90] at (9,201) {Score};
\end{tikzpicture}
\end{document}
